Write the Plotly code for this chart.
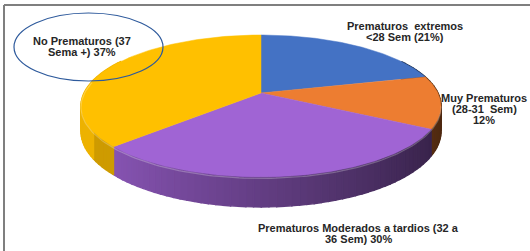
import numpy as np
import plotly.graph_objects as go

# ---- data ----
categories = [
    "Prematuros extremos <28 Sem",
    "Muy Prematuros (28-31 Sem)",
    "Prematuros Moderados a tardios (32 a 36 Sem)",
    "No Prematuros (37 Sema +)",
]
values = [21, 12, 30, 37]
label_lines = [
    ["Prematuros  extremos", "<28 Sem (21%)"],
    ["Muy Prematuros", "(28-31  Sem)", "12%"],
    ["Prematuros Moderados a tardios (32 a", "36 Sem) 30%"],
    ["No Prematuros (37", "Sema +) 37%"],
]

# ---- styling / geometry ----
colors = ["#4472C4", "#ED7D31", "#A064D4", "#FFC000"]
label_pos = [(405, 26), (484, 98), (358, 228), (82, 41)]
line_gap = 11

CX, CY = 261, 93       # apex of the pie (pixels)
A, B, E = 177, 68.6, 0.183   # perspective ellipse params
H = 24.5               # depth


def proj(theta, drop=0.0):
    X = np.sin(theta)
    Z = np.cos(theta)
    d = 1 + E * Z
    return CX + A * X / d, CY - B * Z / d + drop / d


def shade(hex_color, f):
    h = hex_color.lstrip("#")
    r, g, b = (int(h[i:i + 2], 16) for i in (0, 2, 4))
    return "rgb(%d,%d,%d)" % (min(255, r * f), min(255, g * f), min(255, b * f))


fig = go.Figure()

total = float(sum(values))
bounds = np.concatenate([[0], np.cumsum(values)]) / total * 2 * np.pi

# sides (drawn first)
vis0, vis1 = np.radians(60), np.radians(300)
for i in range(len(values)):
    t0, t1 = max(bounds[i], vis0), min(bounds[i + 1], vis1)
    if t1 <= t0:
        continue
    n = max(2, int(np.degrees(t1 - t0) / 2))
    ts = np.linspace(t0, t1, n + 1)
    for a, b in zip(ts[:-1], ts[1:]):
        tt = np.linspace(a, b, 3)
        xt, yt = proj(tt)
        xb, yb = proj(tt[::-1], H)
        mid = (a + b) / 2
        f = 0.62 - 0.3 * np.sin(mid)
        if i == 3:
            f = 0.93 - 0.12 * (np.cos(mid) < -0.5)
        col = shade(colors[i], f)
        fig.add_trace(go.Scatter(
            x=np.concatenate([xt, xb, xt[:1]]),
            y=np.concatenate([yt, yb, yt[:1]]),
            mode="lines", fill="toself", fillcolor=col,
            line=dict(color=col, width=1.4),
            hoverinfo="skip", showlegend=False))

# top surfaces
for i in range(len(values)):
    ts = np.linspace(bounds[i], bounds[i + 1], 120)
    xr, yr = proj(ts)
    fig.add_trace(go.Scatter(
        x=np.concatenate([[CX], xr, [CX]]),
        y=np.concatenate([[CY], yr, [CY]]),
        mode="lines", fill="toself", fillcolor=colors[i],
        line=dict(color=colors[i], width=0.5),
        name=categories[i], hoverinfo="name", showlegend=False))

# rim highlight on front
ts = np.linspace(np.radians(100), np.radians(280), 150)
xr, yr = proj(ts, 1.2)
fig.add_trace(go.Scatter(x=xr, y=yr, mode="lines",
                         line=dict(color="rgba(255,255,255,0.25)", width=1.2),
                         hoverinfo="skip", showlegend=False))

annotations = []
for lines, (lx, ly) in zip(label_lines, label_pos):
    for k, t in enumerate(lines):
        annotations.append(dict(
            x=lx, y=ly + k * line_gap, xref="x", yref="y",
            text="<b>%s</b>" % t, showarrow=False,
            font=dict(family="Liberation Sans, Arial", size=11, color="#262626"),
            xanchor="center", yanchor="middle"))

fig.update_layout(
    width=530, height=251,
    margin=dict(l=0, r=0, t=0, b=0),
    paper_bgcolor="white", plot_bgcolor="white",
    xaxis=dict(range=[0, 530], visible=False, fixedrange=True),
    yaxis=dict(range=[251, 0], visible=False, fixedrange=True),
    annotations=annotations,
    shapes=[
        dict(type="line", xref="x", yref="y", x0=4, y0=5, x1=530, y1=5,
             line=dict(color="#7f7f7f", width=2)),
        dict(type="line", xref="x", yref="y", x0=4, y0=5, x1=4, y1=251,
             line=dict(color="#7f7f7f", width=2)),
        dict(type="circle", xref="x", yref="y", x0=14, y0=13, x1=163, y1=81,
             line=dict(color="#2E5A9C", width=1.2)),
    ],
)

fig.write_html("out.html", config={"displayModeBar": False},
               post_script="document.body.style.margin='0';document.body.style.overflow='hidden';")
